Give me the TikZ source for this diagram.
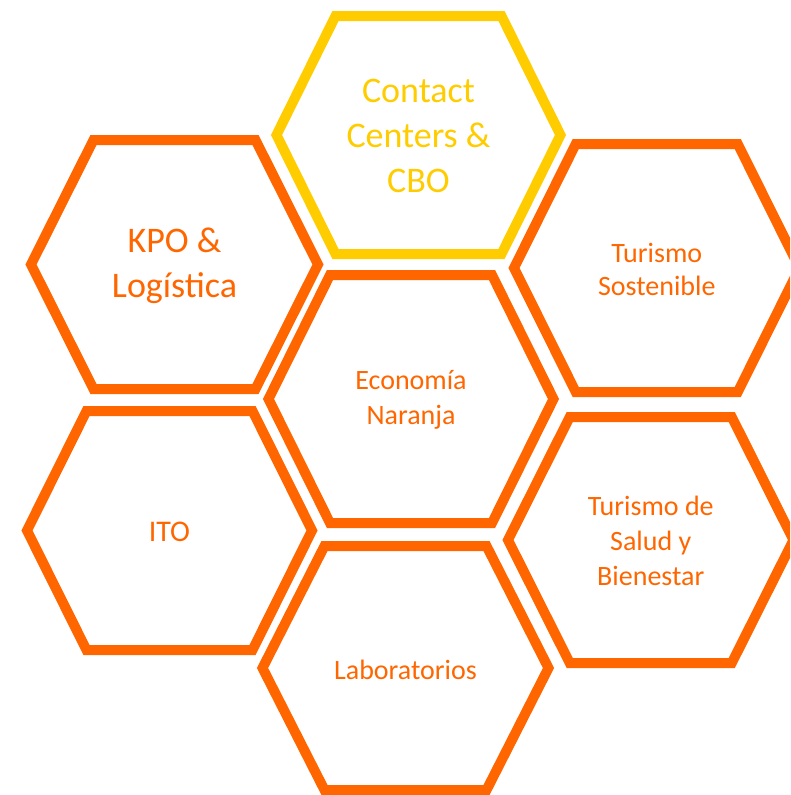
\documentclass[tikz,border=0pt]{standalone}
\usepackage{fontspec}
\setmainfont{Carlito}
\definecolor{hexorange}{HTML}{FF6600}
\definecolor{hexyellow}{HTML}{FFCC00}
\newcommand{\hexpath}[5]{(#1-#3,#2) -- (#1-#4,#2-#5) -- (#1+#4,#2-#5) -- (#1+#3,#2) -- (#1+#4,#2+#5) -- (#1-#4,#2+#5) -- cycle}
\tikzset{
  hexline/.style={line width=10pt, line join=miter, draw=#1},
  bigtext/.style={align=center, text=#1, font=\fontsize{36}{45}\selectfont},
  smalltext/.style={align=center, text=#1, font=\fontsize{28}{35}\selectfont},
}
\begin{document}
\begin{tikzpicture}[x=1pt,y=-1pt]
\useasboundingbox (0,0) rectangle (790,795);
\begin{scope}
\clip (0,0) rectangle (790,795);
\draw[hexline=hexyellow] \hexpath{418.5}{135}{142}{83}{119};
\draw[hexline=hexorange] \hexpath{174.5}{264.5}{143.5}{81}{124.5};
\draw[hexline=hexorange] \hexpath{656.75}{268}{142.75}{81}{124};
\draw[hexline=hexorange] \hexpath{411}{399}{142.5}{81}{124};
\draw[hexline=hexorange] \hexpath{169.5}{530.5}{142.5}{83}{119.5};
\draw[hexline=hexorange] \hexpath{650.75}{540}{142.75}{81}{123};
\draw[hexline=hexorange] \hexpath{405.5}{668}{143}{81}{122};
\end{scope}
\node[bigtext=hexyellow] (contact) at (418.5,136) {Contact\\Centers \&\\CBO};
\node[bigtext=hexorange] (kpo) at (174.5,266) {KPO \&\\Logística};
\node[smalltext=hexorange, font=\fontsize{28}{33}\selectfont] (sost) at (656.75,269) {Turismo\\Sostenible};
\node[smalltext=hexorange] (econ) at (411,400) {Economía\\Naranja};
\node[smalltext=hexorange, font=\fontsize{30}{36}\selectfont] (ito) at (169.5,532) {ITO};
\node[smalltext=hexorange] (salud) at (650.75,541) {Turismo de\\Salud y\\Bienestar};
\node[smalltext=hexorange] (lab) at (405.5,670) {Laboratorios};
\end{tikzpicture}
\end{document}
